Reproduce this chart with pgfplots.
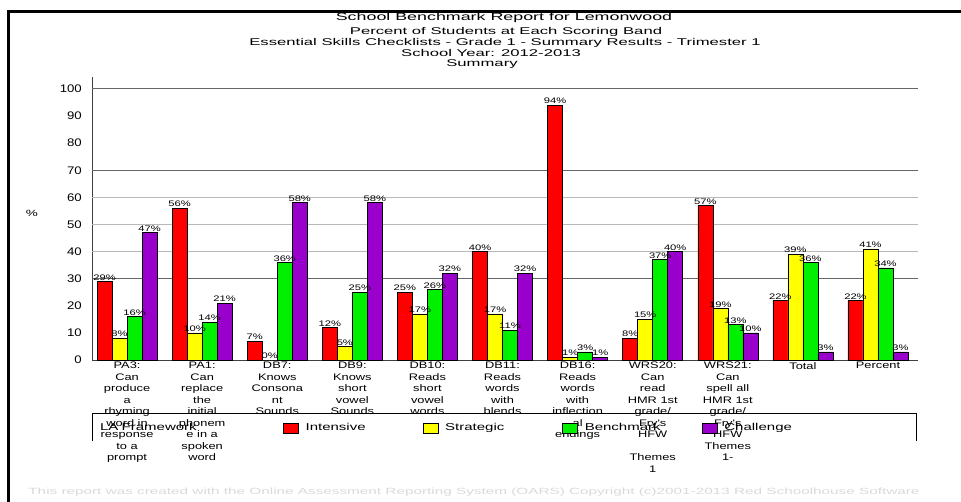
\documentclass[border=0pt]{standalone}
\usepackage{fontspec}
\setmainfont{Liberation Sans}
\newfontfamily\titlefont{Liberation Sans}[FakeStretch=1.7]
\newfontfamily\tickfont{Liberation Sans}[FakeStretch=1.2]
\newfontfamily\catfont{Liberation Sans}[FakeStretch=1.35]
\newfontfamily\legfont{Liberation Sans}[FakeStretch=1.5]
\newfontfamily\valfont{Liberation Sans}[FakeStretch=1.4]
\usepackage{pgfplots}
\usepackage{pgfplotstable}
\pgfplotsset{compat=1.18}

\definecolor{cIntensive}{RGB}{255,0,0}
\definecolor{cStrategic}{RGB}{255,255,0}
\definecolor{cBenchmark}{RGB}{0,240,0}
\definecolor{cChallenge}{RGB}{153,0,204}

% percent of students in each scoring band, per skill
\pgfplotstableread{
x  int str ben cha
0  29  8   16  47
1  56  10  14  21
2  7   0   36  58
3  12  5   25  58
4  25  17  26  32
5  40  17  11  32
6  94  1   3   1
7  8   15  37  40
8  57  19  13  10
9  22  39  36  3
10 22  41  34  3
}\scores

\begin{document}
\begin{tikzpicture}
\useasboundingbox (0,0) rectangle (961bp,-502bp);
\draw[line width=3bp] (8.5bp,-502bp) -- (8.5bp,-11bp) -- (961bp,-11bp);

\node[font=\titlefont\fontsize{10.5bp}{12bp}\selectfont, anchor=base] at (504bp,-20.5bp) {School Benchmark Report for Lemonwood};
\node[font=\titlefont\fontsize{9.8bp}{11bp}\selectfont, anchor=base] at (506bp,-34.5bp) {Percent of Students at Each Scoring Band};
\node[font=\titlefont\fontsize{9.8bp}{11bp}\selectfont, anchor=base] at (505bp,-45.5bp) {Essential Skills Checklists - Grade 1 - Summary Results - Trimester 1};
\node[font=\titlefont\fontsize{9.8bp}{11bp}\selectfont, anchor=base] at (491bp,-56bp) {School Year: 2012-2013};
\node[font=\titlefont\fontsize{9.8bp}{11bp}\selectfont, anchor=base] at (482bp,-66bp) {Summary};

\node[font=\legfont\fontsize{9bp}{10bp}\selectfont] at (32bp,-213bp) {\%};

\begin{axis}[
  at={(92bp,-360bp)}, anchor=south west,
  scale only axis, width=826bp, height=283bp,
  xmin=-0.467, xmax=10.533, ymin=0, ymax=104.4,
  axis x line*=bottom, axis y line*=left,
  axis line style={black!75, line width=1bp},
  ybar=0pt, bar width=15bp,
  ytick={0,10,...,100}, xtick={0,...,10},
  xticklabels={
    {PA3:\\Can\\produce\\a\\rhyming\\word in\\response\\to a\\prompt},
    {PA1:\\Can\\replace\\the\\initial\\phonem\\e in a\\spoken\\word},
    {DB7:\\Knows\\Consona\\nt\\Sounds},
    {DB9:\\Knows\\short\\vowel\\Sounds},
    {DB10:\\Reads\\short\\vowel\\words},
    {DB11:\\Reads\\words\\with\\blends},
    {DB16:\\Reads\\words\\with\\inflection\\al\\endings},
    {WRS20:\\Can\\read\\HMR 1st\\grade/\\Fry's\\HFW\\\mbox{}\\Themes\\1},
    {WRS21:\\Can\\spell all\\HMR 1st\\grade/\\Fry's\\HFW\\Themes\\1-},
    {Total},
    {Percent}},
  major tick length=0pt,
  /pgf/number format/assume math mode=true,
  yticklabel style={font=\tickfont\fontsize{11bp}{12bp}\selectfont, anchor=east, inner sep=0pt, xshift=-10bp},
  xticklabel style={font=\catfont\fontsize{9.5bp}{11.5bp}\selectfont, align=center, anchor=north, inner sep=0pt, yshift=-2bp},
  nodes near coords={\pgfmathprintnumber{\pgfplotspointmeta}\%},
  every node near coord/.append style={font=\valfont\fontsize{8bp}{9bp}\selectfont, inner sep=1bp, text=black},
  legend columns=-1,
  legend cell align=left,
  legend style={at={(0.00969,-0.2403)}, anchor=west, draw=none, fill=none,
    inner sep=0pt, outer sep=0pt, column sep=0pt,
    nodes={inner sep=0pt},
    font=\legfont\fontsize{10bp}{11bp}\selectfont},
  swatch/.style={legend image code/.code={\draw[##1, draw=black, line width=0.6bp] (0bp,-5bp) rectangle (15bp,5bp);}},
  clip=false,
]
% reference lines behind the bars
\draw[black!28, line width=0.8bp] (axis cs:-0.467,40) -- (axis cs:10.533,40);
\draw[black!28, line width=0.8bp] (axis cs:-0.467,50) -- (axis cs:10.533,50);
\draw[black!28, line width=0.8bp] (axis cs:-0.467,60) -- (axis cs:10.533,60);
\draw[black!60, line width=1bp] (axis cs:-0.467,30) -- (axis cs:10.533,30);
\draw[black!60, line width=1bp] (axis cs:-0.467,70) -- (axis cs:10.533,70);
\draw[black!60, line width=1bp] (axis cs:-0.467,100) -- (axis cs:10.533,100);

\addlegendimage{empty legend}
\addlegendentry[text width=183bp]{LA Framework}

\addplot[swatch, fill=cIntensive, draw=black, line width=0.6bp] table[x=x, y=int] {\scores};
\addlegendentry[text width=124bp]{\hspace*{7bp}Intensive}
\addplot[swatch, fill=cStrategic, draw=black, line width=0.6bp] table[x=x, y=str] {\scores};
\addlegendentry[text width=124bp]{\hspace*{7bp}Strategic}
\addplot[swatch, fill=cBenchmark, draw=black, line width=0.6bp] table[x=x, y=ben] {\scores};
\addlegendentry[text width=124bp]{\hspace*{7bp}Benchmark}
\addplot[swatch, fill=cChallenge, draw=black, line width=0.6bp] table[x=x, y=cha] {\scores};
\addlegendentry[text width=124bp]{\hspace*{7bp}Challenge}
\end{axis}

\draw[black, line width=1bp] (92bp,-441bp) -- (92bp,-413bp) -- (916bp,-413bp) -- (916bp,-441bp);

\node[text=black!15, font=\titlefont\fontsize{9bp}{10bp}\selectfont] at (474bp,-492bp) {This report was created with the Online Assessment Reporting System (OARS) Copyright (c)2001-2013 Red Schoolhouse Software};
\end{tikzpicture}
\end{document}
